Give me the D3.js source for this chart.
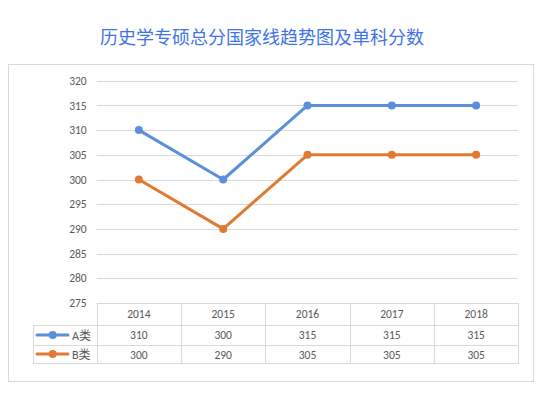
<!DOCTYPE html>
<html><head><meta charset="utf-8">
<script src="https://cdn.jsdelivr.net/npm/d3@7"></script>
<style>body{margin:0;background:#fff;}svg{display:block;}</style>
</head><body>
<svg id="c" width="544" height="397"></svg>
<script>
const title = "历史学专硕总分国家线趋势图及单科分数";
const years = ["2014","2015","2016","2017","2018"];
const seriesNames = ["A类","B类"];
const seriesA = [310,300,315,315,315];
const seriesB = [300,290,305,305,305];
const yTicks = [275,280,285,290,295,300,305,310,315,320];
const colors = ["#5b8fdc","#e07a32"];
const series = [seriesA, seriesB];

const svg = d3.select("#c");
const font = "Calibri, Carlito, 'Liberation Sans', 'Noto Sans CJK SC', sans-serif";

svg.append("rect").attr("x",8.5).attr("y",64.5).attr("width",525).attr("height",317)
  .attr("fill","#fff").attr("stroke","#d9d9d9").attr("stroke-width",1);

svg.append("text").attr("x",262).attr("y",44).attr("text-anchor","middle")
  .attr("font-family","'Noto Sans CJK SC', sans-serif").attr("font-size",18)
  .attr("fill","#3f74e8").text(title);

const left = 96.7, right = 518.3;
const x = d3.scaleBand().domain(years).range([left,right]);
const y = d3.scaleLinear().domain([275,320]).range([303,80.7]);

// gridlines
svg.append("g").selectAll("line").data(yTicks.filter(t=>t!==275)).join("line")
  .attr("x1",left).attr("x2",right).attr("y1",d=>Math.round(y(d))+0.5).attr("y2",d=>Math.round(y(d))+0.5)
  .attr("stroke","#d9d9d9").attr("stroke-width",1);

// y axis labels
const yAxis = d3.axisLeft(y).tickValues(yTicks).tickSize(0).tickPadding(10);
const ga = svg.append("g").attr("transform",`translate(${left},0)`).call(yAxis);
ga.select(".domain").remove();
ga.selectAll("text").attr("font-family",font).attr("font-size",11.5).attr("fill","#595959");

// table
const rowY = [303, 325, 345, 363.5];
const tbl = svg.append("g").attr("stroke","#d9d9d9").attr("stroke-width",1).attr("fill","none");
// horizontal lines
tbl.append("line").attr("x1",left).attr("x2",right).attr("y1",303.5).attr("y2",303.5);
[325,345,363].forEach(v=>{
  tbl.append("line").attr("x1",33.5).attr("x2",right).attr("y1",v+0.5).attr("y2",v+0.5);
});
// vertical lines
tbl.append("line").attr("x1",33.5).attr("x2",33.5).attr("y1",325).attr("y2",363.5);
const vx = years.map(d=>x(d)).concat([right]);
vx.forEach(v=>{
  tbl.append("line").attr("x1",Math.round(v)+0.5).attr("x2",Math.round(v)+0.5).attr("y1",303).attr("y2",363.5);
});

const tt = svg.append("g").attr("font-family",font).attr("font-size",11.5).attr("fill","#595959").attr("text-anchor","middle");
years.forEach(yr=>{
  tt.append("text").attr("x",x(yr)+x.bandwidth()/2).attr("y",318).text(yr);
});
series.forEach((s,i)=>{
  const cy = i===0 ? 339 : 358.5;
  s.forEach((v,j)=>{
    tt.append("text").attr("x",x(years[j])+x.bandwidth()/2).attr("y",cy).text(v);
  });
});

// legend in table
seriesNames.forEach((n,i)=>{
  const cy = i===0 ? 335 : 354;
  svg.append("line").attr("x1",37).attr("x2",68).attr("y1",cy).attr("y2",cy)
    .attr("stroke",colors[i]).attr("stroke-width",3).attr("stroke-linecap","round");
  svg.append("circle").attr("cx",52.7).attr("cy",cy).attr("r",4).attr("fill",colors[i]);
  svg.append("text").attr("x",72).attr("y",cy+4.5).attr("font-family",font).attr("font-size",12)
    .attr("fill","#595959").text(n);
});

// lines
const line = d3.line().x((d,j)=>x(years[j])+x.bandwidth()/2).y(d=>y(d));
series.forEach((s,i)=>{
  svg.append("path").datum(s).attr("d",line).attr("fill","none")
    .attr("stroke",colors[i]).attr("stroke-width",3).attr("stroke-linejoin","round");
  svg.append("g").selectAll("circle").data(s).join("circle")
    .attr("cx",(d,j)=>x(years[j])+x.bandwidth()/2).attr("cy",d=>y(d)).attr("r",4)
    .attr("fill",colors[i]);
});
</script>
</body></html>
